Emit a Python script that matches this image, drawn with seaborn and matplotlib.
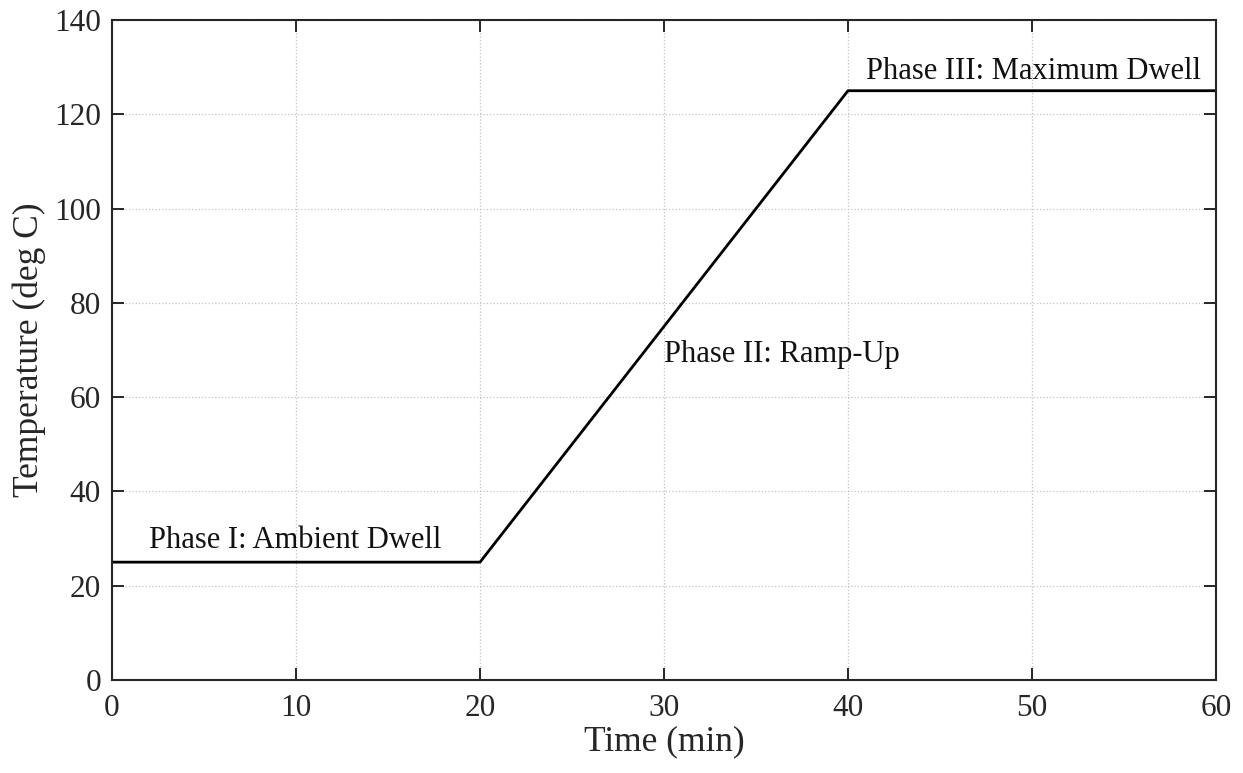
import matplotlib
matplotlib.use("Agg")
import matplotlib.pyplot as plt
import seaborn as sns
import pandas as pd

# Temperature profile breakpoints
time_min = [0, 20, 40, 60]
temp_c = [25, 25, 125, 125]

# Phase annotations: label, x, y
phase_labels = ["Phase I: Ambient Dwell", "Phase II: Ramp-Up", "Phase III: Maximum Dwell"]
phase_x = [2, 30, 41]
phase_y = [28, 67.5, 127.5]

x_ticks = [0, 10, 20, 30, 40, 50, 60]
y_ticks = [0, 20, 40, 60, 80, 100, 120, 140]

sns.set_theme(style="white")
plt.rcParams["font.family"] = ["Liberation Serif", "DejaVu Serif"]

fig = plt.figure(figsize=(12.43, 7.73), dpi=100)
ax = fig.add_axes([112 / 1243, 1 - 680 / 773, 1104 / 1243, 660 / 773])

df = pd.DataFrame({"Time": time_min, "Temp": temp_c})
sns.lineplot(data=df, x="Time", y="Temp", ax=ax, color="black", linewidth=2.0)

for lbl, x, y in zip(phase_labels, phase_x, phase_y):
    ax.text(x, y, lbl, fontsize=22, color="#111111", ha="left", va="baseline")

ax.set_xlim(0, 60)
ax.set_ylim(0, 140)
ax.set_xticks(x_ticks)
ax.set_yticks(y_ticks)
ax.set_xlabel("Time (min)", fontsize=25.5, color="#262626", labelpad=2)
ax.set_ylabel("Temperature (deg C)", fontsize=25.5, color="#262626", labelpad=6)

ax.grid(True, color="#c4c4c4", linestyle=":", linewidth=0.9)
ax.tick_params(axis="both", which="both", direction="in", length=8.5, width=1.4,
               labelsize=22.5, colors="#262626", top=True, right=True,
               bottom=True, left=True, pad=8)
ax.tick_params(axis="x", pad=10)
for s in ax.spines.values():
    s.set_visible(True)
    s.set_color("#262626")
    s.set_linewidth(1.5)

fig.savefig("out.png", dpi=100)
